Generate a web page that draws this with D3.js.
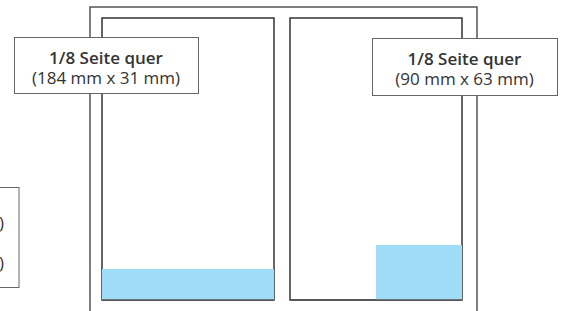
<!DOCTYPE html>
<html lang="de">
<head>
<meta charset="utf-8">
<title>1/8 Seite quer</title>
<script src="https://d3js.org/d3.v7.min.js"></script>
<style>
  body { margin: 0; background: #fff; }
  svg { display: block; }
  .frame { fill: none; stroke: #555; stroke-width: 1.5px; }
  .page { fill: #fff; stroke: #333; stroke-width: 1.5px; }
  .ad { fill: #9edcf7; }
  .label rect { fill: #fff; stroke: #666; stroke-width: 1px; }
  .label text { font-family: "Open Sans", "Noto Sans", sans-serif; fill: #333; text-anchor: middle; }
</style>
</head>
<body>
<div id="chart"></div>
<script>
const width = 563
const height = 311

// the two pages of the spread
const pages = ["links", "rechts"]
// ad size per page, as a share of the page width / height
const adPage = ["links", "rechts"]
const adX0 = [0, 0.5]
const adX1 = [1, 1]
const adHeight = [0.11, 0.195]
// label texts
const labelTitle = ["1/8 Seite quer", "1/8 Seite quer"]
const labelSize = ["(184 mm x 31 mm)", "(90 mm x 63 mm)"]
// legend box cut off at the left edge
const legendLines = ["1/8 Seite hoch (45 mm x 126 mm)", "1/8 Seite hoch (90 mm x 63 mm)"]

const margins = { top: 18, bottom: 11, left: 102, right: 101 }
const pageGap = 16

const svg = d3.select("#chart").append("svg")
    .attr("width", width)
    .attr("height", height)

// one band per page
const xPage = d3.scaleBand()
    .domain(pages)
    .range([margins.left, width - margins.right])
    .paddingInner(pageGap / ((width - margins.left - margins.right - pageGap) / 2 + pageGap))
    .paddingOuter(0)

const y = d3.scaleLinear()
    .domain([0, 1])
    .range([height - margins.bottom, margins.top])

// outer frame (open at the bottom)
svg.append("path")
    .attr("class", "frame")
    .attr("d", "M" + (margins.left - 12) + "," + height
        + "V" + (margins.top - 11)
        + "H" + (width - margins.right + 15)
        + "V" + height)

svg.selectAll(".page")
    .data(pages)
    .enter()
    .append("rect")
    .attr("class", "page")
    .attr("x", d => xPage(d))
    .attr("y", y(1))
    .attr("width", xPage.bandwidth())
    .attr("height", y(0) - y(1))

const ads = adPage.map((p, i) => ({ page: p, x0: adX0[i], x1: adX1[i], h: adHeight[i] }))

svg.selectAll(".ad")
    .data(ads)
    .enter()
    .append("rect")
    .attr("class", "ad")
    .attr("x", d => xPage(d.page) + d.x0 * xPage.bandwidth())
    .attr("y", d => y(d.h))
    .attr("width", d => (d.x1 - d.x0) * xPage.bandwidth())
    .attr("height", d => y(0) - y(d.h))

// redraw the page bottoms on top of the blue areas
svg.selectAll(".bottom")
    .data(pages)
    .enter()
    .append("line")
    .attr("x1", d => xPage(d))
    .attr("x2", d => xPage(d) + xPage.bandwidth())
    .attr("y1", y(0))
    .attr("y2", y(0))
    .attr("stroke", "#555")
    .attr("stroke-width", 1.5)

// label boxes
const labelBoxes = [
    { x: 14, y: 37, w: 184, h: 56 },
    { x: 372, y: 38, w: 185, h: 57 }
]

const labels = svg.selectAll(".label")
    .data(labelTitle.map((t, i) => ({ title: t, size: labelSize[i], box: labelBoxes[i] })))
    .enter()
    .append("g")
    .attr("class", "label")
    .attr("transform", d => "translate(" + d.box.x + "," + d.box.y + ")")

labels.append("rect")
    .attr("x", 0.5)
    .attr("y", 0.5)
    .attr("width", d => d.box.w)
    .attr("height", d => d.box.h)

labels.append("text")
    .attr("x", d => d.box.w / 2)
    .attr("y", 27)
    .style("font-size", "17px")
    .style("font-weight", 600)
    .text(d => d.title)

labels.append("text")
    .attr("x", d => d.box.w / 2)
    .attr("y", 47)
    .style("font-size", "17px")
    .text(d => d.size)

// legend box, mostly outside the picture
const legend = svg.append("g").attr("class", "label")
legend.append("rect")
    .attr("x", -200)
    .attr("y", 187.5)
    .attr("width", 219)
    .attr("height", 100)
legend.selectAll("text")
    .data(legendLines)
    .enter()
    .append("text")
    .attr("x", 4)
    .attr("y", (d, i) => 229 + i * 40)
    .style("text-anchor", "end")
    .style("font-size", "17px")
    .text(d => d)
</script>
</body>
</html>
